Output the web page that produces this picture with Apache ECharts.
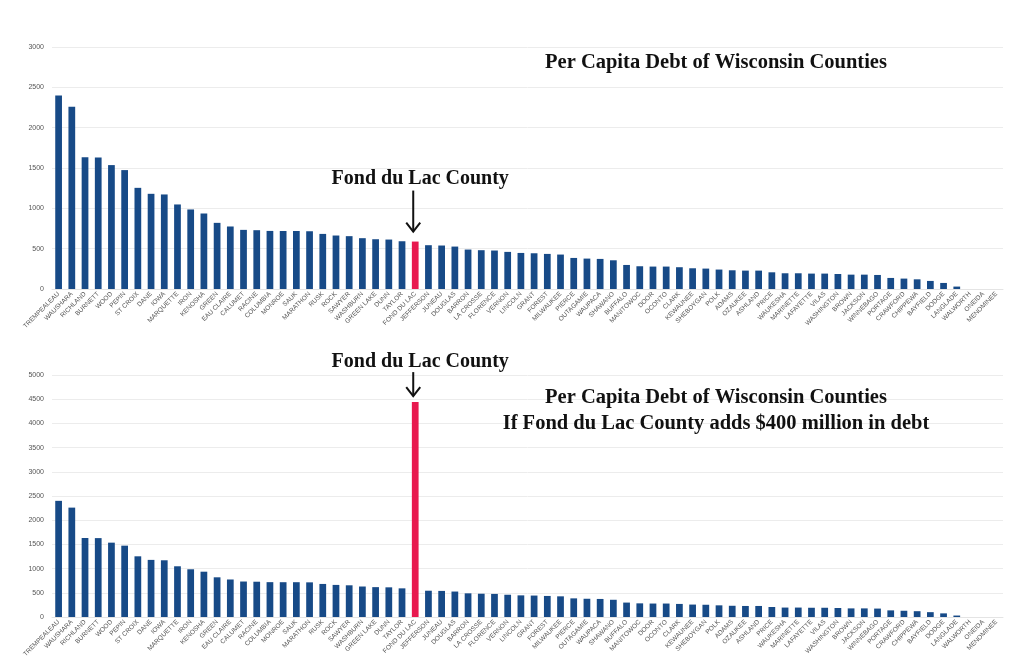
<!DOCTYPE html>
<html>
<head>
<meta charset="utf-8">
<script src="https://cdn.jsdelivr.net/npm/echarts@6/dist/echarts.min.js"></script>
<style>
html,body{margin:0;padding:0;background:#fff;}
#c{width:1024px;height:668px;}
</style>
</head>
<body>
<div id="c"></div>
<script>
const counties = ["TREMPEALEAU","WAUSHARA","RICHLAND","BURNETT","WOOD","PEPIN","ST CROIX","DANE","IOWA","MARQUETTE",
"IRON","KENOSHA","GREEN","EAU CLAIRE","CALUMET","RACINE","COLUMBIA","MONROE","SAUK","MARATHON",
"RUSK","ROCK","SAWYER","WASHBURN","GREEN LAKE","DUNN","TAYLOR","FOND DU LAC","JEFFERSON","JUNEAU",
"DOUGLAS","BARRON","LA CROSSE","FLORENCE","VERNON","LINCOLN","GRANT","FOREST","MILWAUKEE","PIERCE",
"OUTAGAMIE","WAUPACA","SHAWANO","BUFFALO","MANITOWOC","DOOR","OCONTO","CLARK","KEWAUNEE","SHEBOYGAN",
"POLK","ADAMS","OZAUKEE","ASHLAND","PRICE","WAUKESHA","MARINETTE","LAFAYETTE","VILAS","WASHINGTON",
"BROWN","JACKSON","WINNEBAGO","PORTAGE","CRAWFORD","CHIPPEWA","BAYFIELD","DODGE","LANGLADE","WALWORTH",
"ONEIDA","MENOMINEE"];

const perCapitaDebt = [2400,2260,1632,1630,1536,1474,1254,1180,1172,1048,
986,936,820,775,733,729,720,719,719,716,
683,663,655,630,617,613,592,588,543,539,
526,489,481,477,460,447,443,435,427,385,
377,373,356,298,282,278,278,270,257,253,
241,232,228,228,207,195,195,191,191,186,
178,178,174,137,129,120,100,75,30,0,0,0];

const highlight = "FOND DU LAC";
const fdlWithNewDebt = 4440;

const topTicks = {min:0, max:3000, interval:500};
const bottomTicks = {min:0, max:5000, interval:500};

const topTitle = "Per Capita Debt of Wisconsin Counties";
const bottomTitle1 = "Per Capita Debt of Wisconsin Counties";
const bottomTitle2 = "If Fond du Lac County adds $400 million in debt";
const fdlLabel = "Fond du Lac County";

const BLUE = "#174a87";
const RED = "#e8194f";

function makeData(vals){
  return vals.map((v,i)=> counties[i]===highlight ? {value:v, itemStyle:{color:RED}} : v);
}
const bottomVals = perCapitaDebt.map((v,i)=> counties[i]===highlight ? fdlWithNewDebt : v);

const chart = echarts.init(document.getElementById('c'));

const xAxisCommon = {
  type:'category', data:counties,
  axisTick:{show:false},
  axisLine:{lineStyle:{color:'#e4e4e4'}},
  axisLabel:{interval:0, rotate:45, fontSize:6.5, color:'#555', fontFamily:'Liberation Sans', margin:4}
};
const yAxisCommon = {
  type:'value',
  axisLine:{show:false}, axisTick:{show:false},
  axisLabel:{fontSize:7, color:'#555', fontFamily:'Liberation Sans', margin:8, formatter:(v)=>String(v)},
  splitLine:{lineStyle:{color:'#ececec'}}
};

chart.setOption({
  animation:false,
  grid:[
    {left:52, right:21, top:47, height:242},
    {left:52, right:21, top:375, height:242}
  ],
  xAxis:[
    Object.assign({gridIndex:0}, xAxisCommon),
    Object.assign({gridIndex:1}, xAxisCommon)
  ],
  yAxis:[
    Object.assign({gridIndex:0}, yAxisCommon, topTicks),
    Object.assign({gridIndex:1}, yAxisCommon, bottomTicks)
  ],
  series:[
    {type:'bar', xAxisIndex:0, yAxisIndex:0, data:makeData(perCapitaDebt), barWidth:'51%', itemStyle:{color:BLUE}},
    {type:'bar', xAxisIndex:1, yAxisIndex:1, data:makeData(bottomVals), barWidth:'51%', itemStyle:{color:BLUE}}
  ]
});

// annotations anchored on the highlighted bar
const hi = counties.indexOf(highlight);
const pTop = chart.convertToPixel({xAxisIndex:0, yAxisIndex:0}, [hi, perCapitaDebt[hi]]);
const pBot = chart.convertToPixel({xAxisIndex:1, yAxisIndex:1}, [hi, fdlWithNewDebt]);

const serif = 'Liberation Serif, DejaVu Serif, serif';
function arrow(x, y1, y2){
  return [
    {type:'line', shape:{x1:x, y1:y1, x2:x, y2:y2}, style:{stroke:'#111', lineWidth:2}},
    {type:'polyline', shape:{points:[[x-7,y2-9],[x,y2],[x+7,y2-9]]}, style:{stroke:'#111', lineWidth:2, fill:null}}
  ];
}
const g = [];
g.push({type:'text', x:pTop[0]+5, y:pTop[1]-63, style:{text:fdlLabel, font:'bold 20px '+serif, fill:'#111', textAlign:'center', textVerticalAlign:'middle'}});
g.push(...arrow(pTop[0]-2, pTop[1]-51, pTop[1]-10));
g.push({type:'text', x:716, y:63, style:{text:topTitle, font:'bold 20.5px '+serif, fill:'#111', textAlign:'center', textVerticalAlign:'middle'}});

g.push({type:'text', x:pBot[0]+5, y:pBot[1]-40, style:{text:fdlLabel, font:'bold 20px '+serif, fill:'#111', textAlign:'center', textVerticalAlign:'middle'}});
g.push(...arrow(pBot[0]-2, pBot[1]-30, pBot[1]-6));
g.push({type:'text', x:716, y:398, style:{text:bottomTitle1, font:'bold 20.5px '+serif, fill:'#111', textAlign:'center', textVerticalAlign:'middle'}});
g.push({type:'text', x:716, y:424, style:{text:bottomTitle2, font:'bold 20.5px '+serif, fill:'#111', textAlign:'center', textVerticalAlign:'middle'}});
chart.setOption({graphic:g});
</script>
</body>
</html>
